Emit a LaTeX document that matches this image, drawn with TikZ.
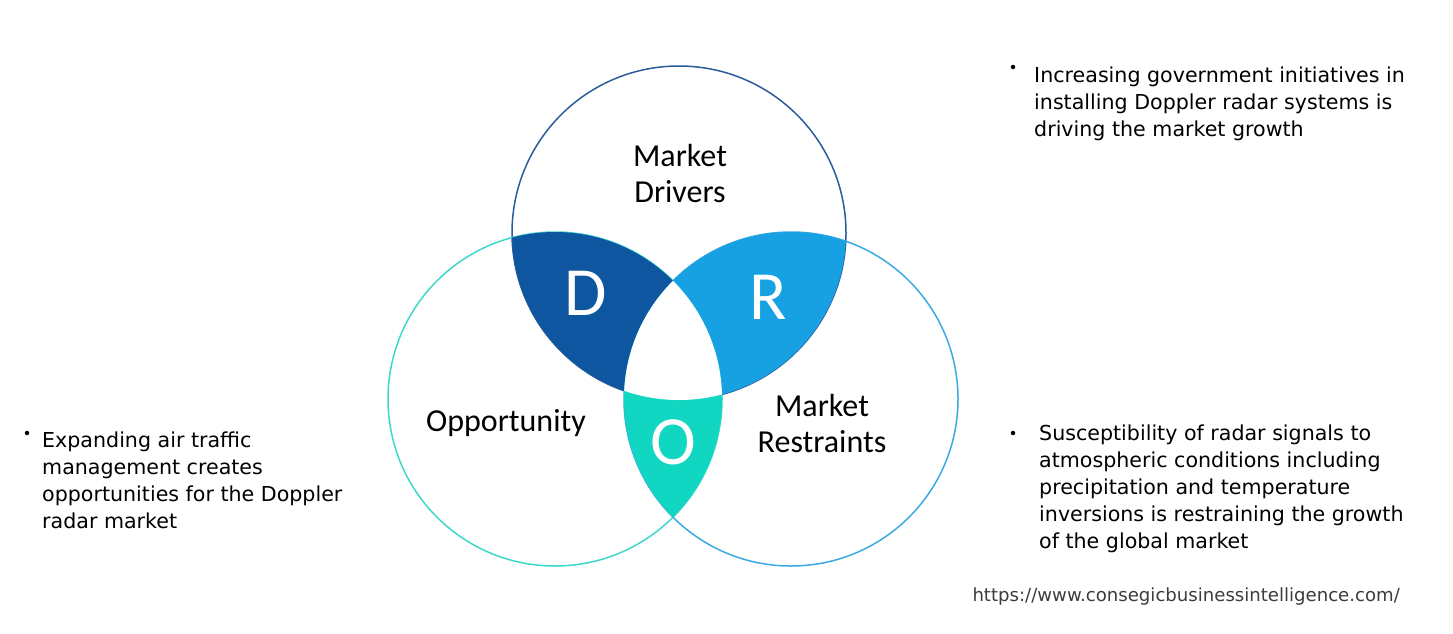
\documentclass[tikz,border=0pt]{standalone}
\usepackage{fontspec}
\setmainfont{DejaVu Sans}
\newfontfamily\carl{Carlito}
\definecolor{dcol}{HTML}{0F56A0}
\definecolor{rcol}{HTML}{18A1E2}
\definecolor{ocol}{HTML}{11D6C2}
\definecolor{topline}{HTML}{2B5C9C}
\definecolor{leftline}{HTML}{3ED8CB}
\definecolor{rightline}{HTML}{3AAAE2}
\definecolor{urlgray}{HTML}{3C3C3C}
\begin{document}
\begin{tikzpicture}[x=1pt,y=-1pt,
  lbl/.style={font=\carl\fontsize{32}{36}\selectfont, text=black, inner sep=0pt, align=center},
  letter/.style={font=\carl\fontsize{69}{72}\selectfont, text=white, inner sep=0pt},
  bodytxt/.style={font=\fontsize{20.6}{27}\selectfont, text=black, inner sep=0pt, align=left, anchor=north west},
  bul/.style={circle, fill=black, inner sep=0pt, minimum size=4.5pt},
  ring/.style={line width=1.5pt}]
\useasboundingbox (0,0) rectangle (1453,633);
\fill[white] (0,0) rectangle (1453,633);
\def\rad{167pt}
\coordinate (T) at (679,233);
\coordinate (L) at (555,399);
\coordinate (Rc) at (791,399);
% outlines
\draw[ring, topline] (T) circle[radius=\rad];
\draw[ring, leftline] (L) circle[radius=\rad];
\draw[ring, rightline] (Rc) circle[radius=\rad];
% fills
\begin{scope}\clip (T) circle[radius=\rad]; \fill[dcol] (L) circle[radius=\rad]; \end{scope}
\begin{scope}\clip (T) circle[radius=\rad]; \fill[rcol] (Rc) circle[radius=\rad]; \end{scope}
\begin{scope}\clip (L) circle[radius=\rad]; \fill[ocol] (Rc) circle[radius=\rad]; \end{scope}
\begin{scope}\clip (T) circle[radius=\rad]; \clip (L) circle[radius=\rad]; \fill[white] (Rc) circle[radius=\rad]; \end{scope}
% letters
\node[letter] (dl) at (586,293) {D};
\node[letter] (rl) at (768,297) {R};
\node[letter] (ol) at (673,442) {O};
% labels
\node[lbl, anchor=north] (drv) at (680,143.7) {Market\\Drivers};
\node[lbl, anchor=base] (opp) at (506,431) {Opportunity};
\node[lbl, anchor=north] (res) at (822,394) {Market\\Restraints};
% bullet texts
\node[bul] (b1) at (1013,67) {};
\node[bodytxt] (t1) at (1034,66.3) {Increasing government initiatives in\\installing Doppler radar systems is\\driving the market growth};
\node[bul] (b2) at (27,433) {};
\node[bodytxt] (t2) at (42,431.6) {Expanding air traffic\\management creates\\opportunities for the Doppler\\radar market};
\node[bul] (b3) at (1013,433) {};
\node[bodytxt] (t3) at (1039,424.3) {Susceptibility of radar signals to\\atmospheric conditions including\\precipitation and temperature\\inversions is restraining the growth\\of the global market};
% url
\node[font=\fontsize{18.1}{20}\selectfont, text=urlgray, inner sep=0pt, anchor=base east] (url) at (1400,601) {https://www.consegicbusinessintelligence.com/};
\end{tikzpicture}
\end{document}
